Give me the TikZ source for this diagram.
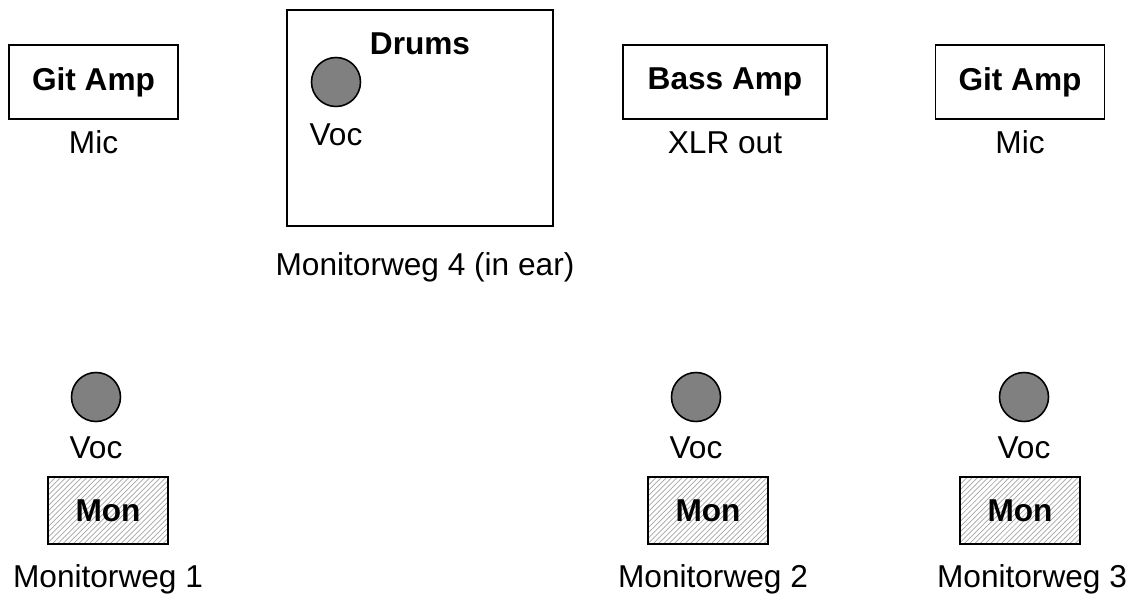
\documentclass[tikz,border=0pt]{standalone}
\usepackage{fontspec}
\setmainfont{Liberation Sans}
\usetikzlibrary{positioning,patterns}
\newcommand\stagefont{\fontsize{18}{21}\selectfont}

\begin{document}
\begin{tikzpicture}[x=0.02cm,y=-0.02cm,node distance=0.24cm,font=\stagefont,
    amp node/.style={rectangle,draw,line width=1.1pt,minimum width=3.38cm,
                     minimum height=1.48cm,font=\stagefont\bfseries},
    mon node/.style={rectangle,draw,line width=1.1pt,minimum width=2.4cm,
                     minimum height=1.34cm,pattern=north east lines,
                     pattern color=gray!70,font=\stagefont\bfseries},
    voc node/.style={circle,draw,line width=0.9pt,fill=gray,minimum size=0.98cm,inner sep=0pt},
    caption/.style={inner sep=0pt,text height=13pt,text depth=0pt}]

  \useasboundingbox (0,0) rectangle (1132,596);

  % back line
  \node[amp node] (gitL) at (93.5,82) {Git Amp};
  \node[caption] (micL) [below=0.2cm of gitL] {Mic};

  \node[amp node,minimum width=5.32cm,minimum height=4.32cm] (drums) at (420,118) {};
  \node[caption,font=\stagefont\bfseries] (drumsT) at (420,43) {Drums};
  \node[voc node] (vocD) at (336,82) {};
  \node[caption] (vocDT) [below=0.3cm of vocD] {Voc};
  \node[caption] (mw4) [below=0.51cm of drums,xshift=0.1cm] {Monitorweg 4 (in ear)};

  \node[amp node,minimum width=4.08cm] (bass) at (725,82) {Bass Amp};
  \node[caption] (xlr) [below=0.2cm of bass] {XLR out};

  \node[amp node] (gitR) at (1020,82) {Git Amp};
  \node[caption] (micR) [below=0.2cm of gitR] {Mic};

  % front line
  \node[voc node] (voc1) at (96,397) {};
  \node[voc node] (voc2) at (696,397) {};
  \node[voc node] (voc3) at (1024,397) {};
  \node[caption] (voc1T) [below=0.27cm of voc1] {Voc};
  \node[caption] (voc2T) [below=0.27cm of voc2] {Voc};
  \node[caption] (voc3T) [below=0.27cm of voc3] {Voc};

  \node[mon node] (mon1) at (108,510.5) {Mon};
  \node[mon node] (mon2) at (708,510.5) {Mon};
  \node[mon node] (mon3) at (1020,510.5) {Mon};
  \node[caption] (mw1) [below=0.39cm of mon1] {Monitorweg 1};
  \node[caption] (mw2) [below=0.39cm of mon2,xshift=0.1cm] {Monitorweg 2};
  \node[caption] (mw3) [below=0.39cm of mon3,xshift=0.24cm] {Monitorweg 3};
\end{tikzpicture}
\end{document}
